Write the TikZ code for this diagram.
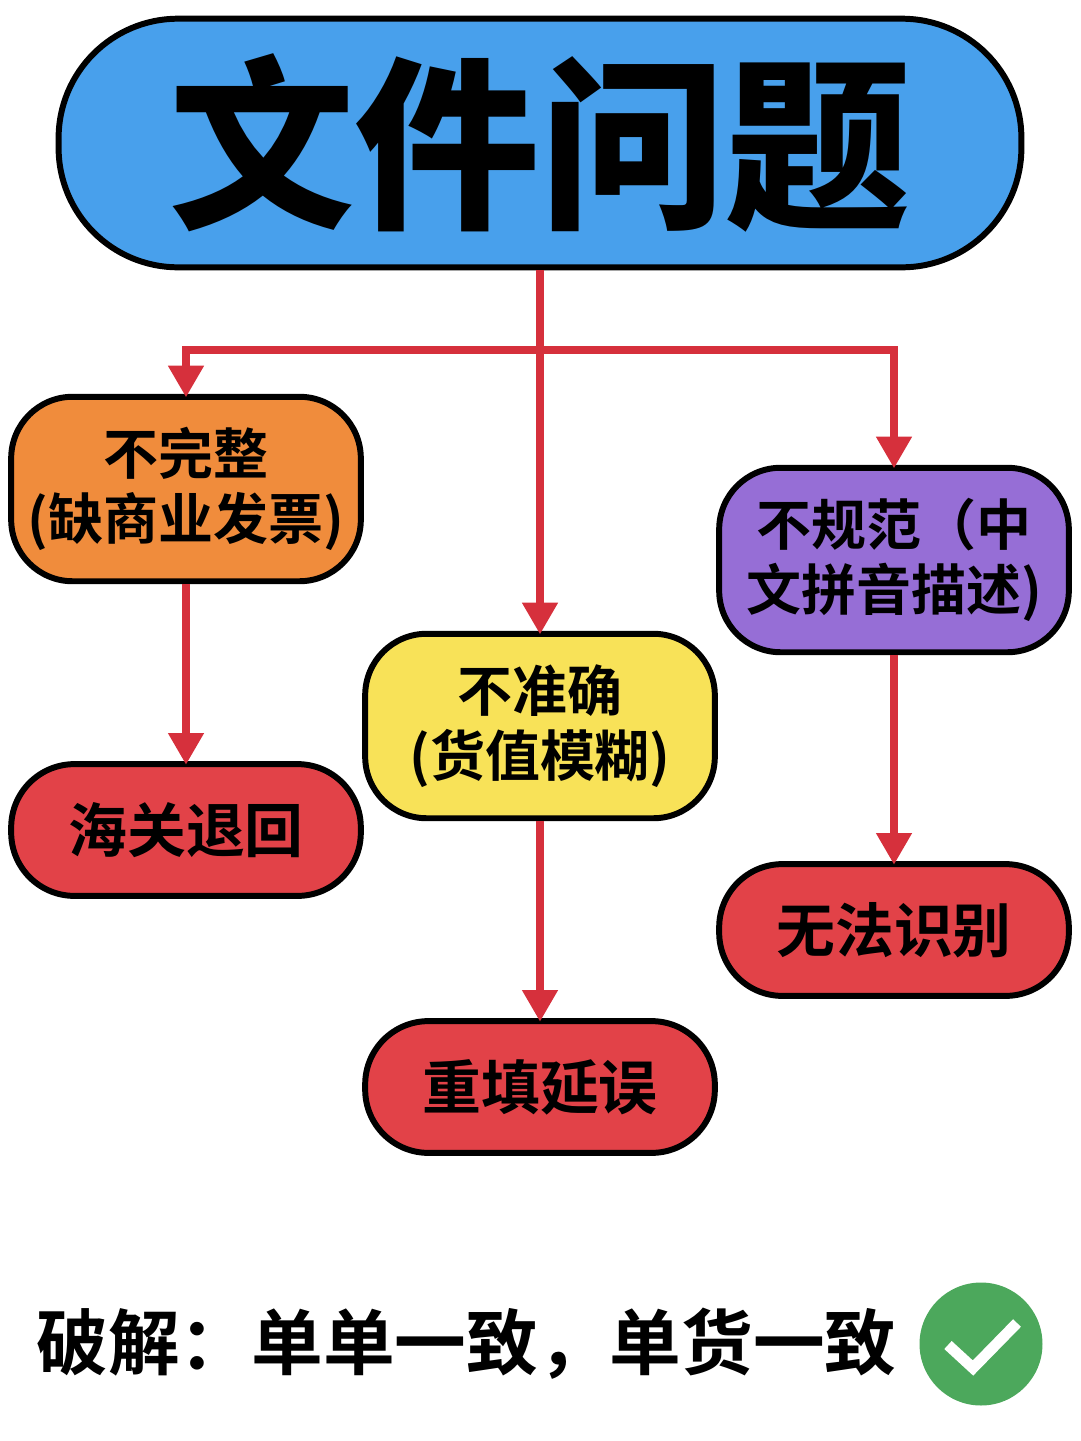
\documentclass[tikz,border=0pt]{standalone}
\usepackage{fontspec}
\usepackage{tikz}
\setmainfont{Noto Sans CJK SC}[BoldFont={Noto Sans CJK SC Bold}]
\newfontfamily\titlefont{Noto Sans CJK SC Black}
\definecolor{linered}{RGB}{214,48,60}
\definecolor{titleblue}{RGB}{72,160,236}
\definecolor{boxorange}{RGB}{240,140,60}
\definecolor{boxyellow}{RGB}{248,226,88}
\definecolor{boxpurple}{RGB}{150,110,214}
\definecolor{boxred}{RGB}{226,66,72}
\definecolor{okgreen}{RGB}{76,168,92}
\usetikzlibrary{arrows.meta}
\tikzset{
  pill/.style={draw=black,line width=3.4pt,rounded corners=#1,inner sep=0pt,minimum width=199pt,align=center,font=\bfseries\fontsize{31.3}{37}\selectfont},
  flow/.style={draw=linered,line width=4pt,shorten >=-2pt,-{Triangle[length=18pt,width=19.5pt]}}
}
\begin{document}
\begin{tikzpicture}
[x=0.02cm, y=-0.02cm]
\useasboundingbox (0,0) rectangle (1080,1441);
\node[pill=68pt,fill=titleblue,minimum width=548pt,minimum height=141.5pt,font=\titlefont\fontsize{105.5}{105.5}\selectfont] (title) at (540,143) {文件问题};
\node[pill=35pt,fill=boxorange,minimum height=105pt] (incomplete) at (186,489) {不完整\\(缺商业发票)};
\node[pill=35pt,fill=boxyellow,minimum height=105pt] (inexact) at (540,726) {不准确\\(货值模糊)};
\node[pill=35pt,fill=boxpurple,minimum height=105pt] (nonstd) at (894,560) {不规范（中\\文拼音描述)};
\node[pill=36pt,fill=boxred,minimum height=75pt,font=\bfseries\fontsize{33.5}{38}\selectfont] (returned) at (186,830) {海关退回};
\node[pill=36pt,fill=boxred,minimum height=75pt,font=\bfseries\fontsize{33.5}{38}\selectfont] (refill) at (540,1087) {重填延误};
\node[pill=36pt,fill=boxred,minimum height=75pt,font=\bfseries\fontsize{33.5}{38}\selectfont] (unknown) at (894,930) {无法识别};
\coordinate (branch) at (540,350);
\draw[flow] (title.south) -- (inexact.north);
\draw[flow] (branch) -| (incomplete.north);
\draw[flow] (branch) -| (nonstd.north);
\draw[flow] (incomplete.south) -- (returned.north);
\draw[flow] (inexact.south) -- (refill.north);
\draw[flow] (nonstd.south) -- (unknown.north);
\node[anchor=west,inner sep=0pt,font=\bfseries\fontsize{40.8}{44}\selectfont] (fix) at (36,1344) {破解：单单一致，单货一致};
\node[circle,fill=okgreen,minimum size=70pt,inner sep=0pt] (okmark) at (981,1344) {};
\coordinate (tick1) at (948,1345);
\coordinate (tick2) at (973,1368);
\coordinate (tick3) at (1017,1323);
\draw[white,line width=6.2pt] (tick1) -- (tick2) -- (tick3);
\end{tikzpicture}
\end{document}
